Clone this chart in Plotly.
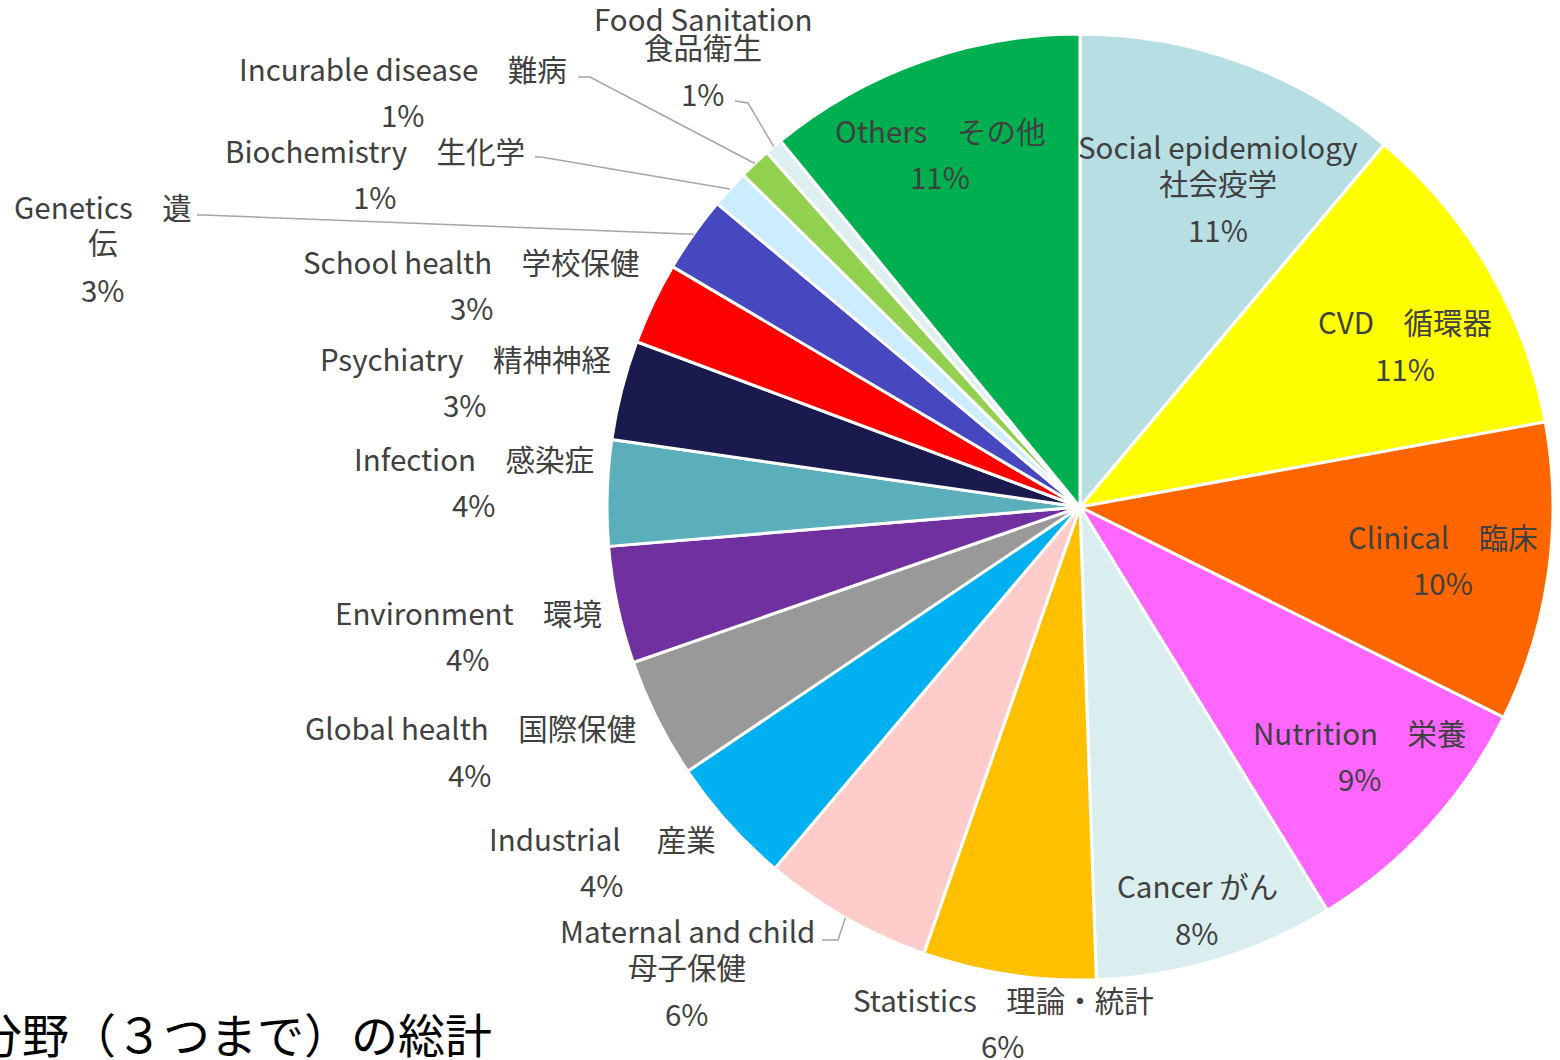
import math
import plotly.graph_objects as go

# ---------------- data ----------------
categories = [
    "Social epidemiology　社会疫学", "CVD　循環器", "Clinical　臨床", "Nutrition　栄養",
    "Cancer がん", "Statistics　理論・統計", "Maternal and child　母子保健",
    "Industrial　 産業", "Global health　国際保健", "Environment　環境",
    "Infection　感染症", "Psychiatry　精神神経", "School health　学校保健",
    "Genetics　遺伝", "Biochemistry　生化学", "Incurable disease　難病",
    "Food Sanitation　食品衛生", "Others　その他",
]
values = [11.1, 11.0, 10.2, 8.9, 8.2, 5.9, 5.8, 4.4, 4.1, 4.0, 3.6, 3.4, 2.8, 2.6,
          1.3, 1.1, 0.6, 10.9]
colors = ["#B7DEE3", "#FFFF00", "#FF6600", "#FF66FF", "#DAEEF0", "#FFC000", "#FFCCCC",
          "#00B0F0", "#999999", "#7030A0", "#5BAFBA", "#1B1A4F", "#FF0000", "#4747C0",
          "#CCECFF", "#92D050", "#DDEFEF", "#00B050"]
# label text lines (as wrapped in the original chart)
label_lines = [
    ["Social epidemiology", "社会疫学"], ["CVD　循環器"], ["Clinical　臨床"], ["Nutrition　栄養"],
    ["Cancer がん"], ["Statistics　理論・統計"], ["Maternal and child", "母子保健"],
    ["Industrial　 産業"], ["Global health　国際保健"], ["Environment　環境"],
    ["Infection　感染症"], ["Psychiatry　精神神経"], ["School health　学校保健"],
    ["Genetics　遺", "伝"], ["Biochemistry　生化学"], ["Incurable disease　難病"],
    ["Food Sanitation", "食品衛生"], ["Others　その他"],
]
title_text = "分野（３つまで）の総計"

# ---------------- layout (pixels) ----------------
W, H = 1560, 1060
CX, CY, R = 1080, 507, 473
label_x = [1218, 1405, 1443, 1360, 1197, 1003, 687, 602, 470, 468, 474, 465, 472,
           103, 375, 403, 703, 940]
label_y = [[146, 182, 229], [321, 368], [536, 582], [732, 778], [885, 932], [999, 1045],
           [930, 966, 1013], [838, 884], [727, 774], [612, 658], [458, 504], [358, 404],
           [261, 307], [206, 241, 289], [150, 196], [68, 114], [18, 46, 93], [130, 176]]
# leader lines: index -> two anchor points near the label (pixels)
leaders = {
    6: [(822, 940), (838, 940)],
    13: [(197, 215), (203, 215)],
    14: [(535, 157), (541, 157)],
    15: [(578, 77), (590, 77)],
    16: [(735, 101), (748, 103)],
}

def px(x):
    return x / W

def py(y):
    return 1 - y / H

fig = go.Figure(go.Pie(
    labels=categories, values=values, sort=False, direction="clockwise", rotation=0,
    marker=dict(colors=colors, line=dict(color="white", width=3)),
    textinfo="none", hoverinfo="label+percent", showlegend=False,
    domain=dict(x=[(CX - R) / W, (CX + R) / W], y=[1 - (CY + R) / H, 1 - (CY - R) / H]),
))

total = sum(values)
font = dict(family="Noto Sans CJK JP, Noto Sans, sans-serif", size=29.5, color="#404040")
annotations = []
shapes = []
cum = 0.0
for i, (v, lines) in enumerate(zip(values, label_lines)):
    pct = f"{v / total:.0%}"
    texts = lines + [pct]
    for t, yy in zip(texts, label_y[i]):
        annotations.append(dict(text=t, x=px(label_x[i]), y=py(yy), xref="paper", yref="paper",
                                xanchor="center", yanchor="middle", showarrow=False, font=font))
    mid = 2 * math.pi * (cum + v / 2) / total
    cum += v
    if i in leaders:
        ex = CX + R * math.sin(mid)
        ey = CY - R * math.cos(mid)
        pts = leaders[i] + [(ex, ey)]
        path = "M " + " L ".join(f"{px(a):.5f},{py(b):.5f}" for a, b in pts)
        shapes.append(dict(type="path", path=path, xref="paper", yref="paper",
                           line=dict(color="#A6A6A6", width=1.5)))

annotations.append(dict(text=title_text, x=px(494), y=py(1032), xref="paper", yref="paper",
                        xanchor="right", yanchor="middle", showarrow=False,
                        font=dict(family="Noto Sans CJK JP, sans-serif", size=47, color="#000000")))

fig.update_layout(width=W, height=H, margin=dict(l=0, r=0, t=0, b=0),
                  paper_bgcolor="white", plot_bgcolor="white",
                  annotations=annotations, shapes=shapes)
fig.write_html("out.html", config={"displayModeBar": False},
               post_script="document.body.style.margin='0';")
